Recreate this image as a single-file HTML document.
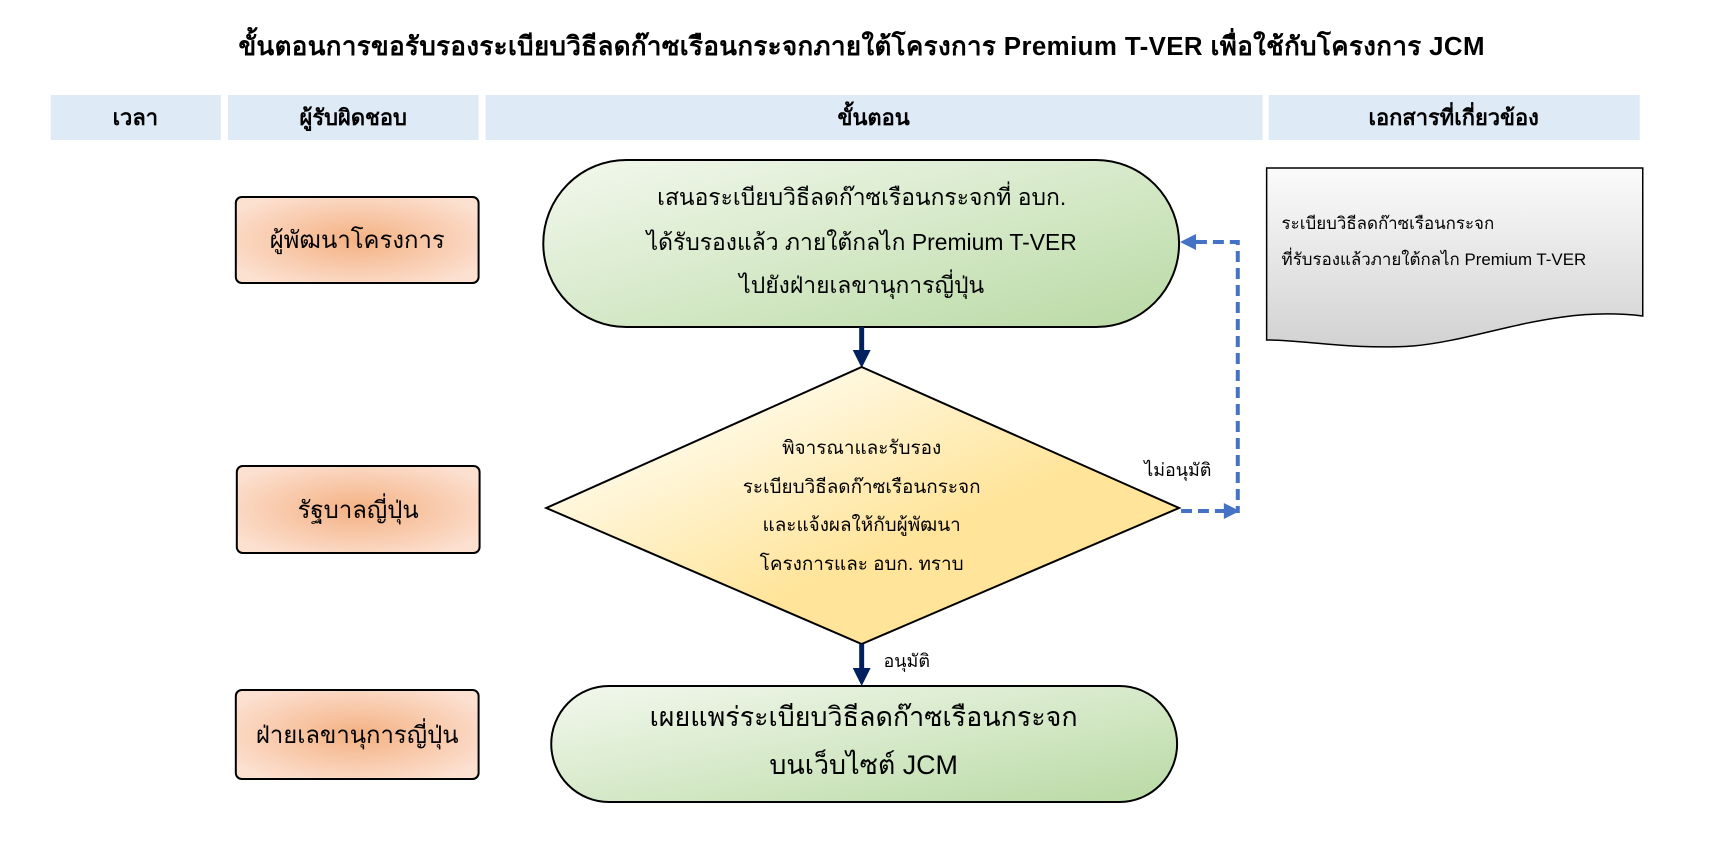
<!DOCTYPE html>
<html><head><meta charset="utf-8"><style>
html,body{margin:0;padding:0;background:#fff;}
svg{display:block;font-family:"Liberation Sans","Noto Sans CJK SC",sans-serif;}
</style></head><body>
<svg width="1725" height="845" viewBox="0 0 1725 845" xmlns="http://www.w3.org/2000/svg">
<defs>
<linearGradient id="g" x1="0" y1="0" x2="1" y2="1"><stop offset="0" stop-color="#f3f8ee"/><stop offset="1" stop-color="#b9daa4"/></linearGradient>
<linearGradient id="y" x1="0" y1="0" x2="1" y2="1"><stop offset="0.15" stop-color="#fffdf2"/><stop offset="0.6" stop-color="#ffe49a"/></linearGradient>
<radialGradient id="o" cx="0.5" cy="0.5" r="0.6"><stop offset="0" stop-color="#f4b183"/><stop offset="1" stop-color="#fce0d0"/></radialGradient>
<linearGradient id="d" x1="0" y1="0" x2="0" y2="1"><stop offset="0" stop-color="#fbfbfb"/><stop offset="1" stop-color="#d2d2d2"/></linearGradient>
</defs>
<g transform="translate(0,0) scale(0.995,1)">
<text x="866" y="55" font-size="26" font-weight="bold" text-anchor="middle" letter-spacing="0.4">ขั้นตอนการขอรับรองระเบียบวิธีลดก๊าซเรือนกระจกภายใต้โครงการ Premium T-VER เพื่อใช้กับโครงการ JCM</text>
<g fill="#deebf7">
<rect x="51" y="95" width="171" height="45"/><rect x="229" y="95" width="252" height="45"/>
<rect x="488" y="95" width="781" height="45"/><rect x="1275" y="95" width="373" height="45"/>
</g>
<g font-size="22" font-weight="bold" text-anchor="middle">
<text x="136" y="125">เวลา</text><text x="355" y="125">ผู้รับผิดชอบ</text>
<text x="878" y="125">ขั้นตอน</text><text x="1461" y="125">เอกสารที่เกี่ยวข้อง</text>
</g>
<g fill="url(#o)" stroke="#000" stroke-width="2">
<rect x="237" y="197" width="244" height="86" rx="6"/>
<rect x="238" y="466" width="244" height="87" rx="6"/>
<rect x="237" y="690" width="244" height="89" rx="6"/>
</g>
<g font-size="24" text-anchor="middle">
<text x="359" y="248">ผู้พัฒนาโครงการ</text>
<text x="360" y="518">รัฐบาลญี่ปุ่น</text>
<text x="359" y="743">ฝ่ายเลขานุการญี่ปุ่น</text>
</g>
<rect x="546" y="160" width="639" height="167" rx="83.5" fill="url(#g)" stroke="#000" stroke-width="2"/>
<g font-size="23" text-anchor="middle">
<text x="866" y="205">เสนอระเบียบวิธีลดก๊าซเรือนกระจกที่ อบก.</text>
<text x="866" y="250">ได้รับรองแล้ว ภายใต้กลไก Premium T-VER</text>
<text x="866" y="293">ไปยังฝ่ายเลขานุการญี่ปุ่น</text>
</g>
<line x1="866" y1="327" x2="866" y2="352" stroke="#002060" stroke-width="5"/>
<path d="M857,350 L875,350 L866,368z" fill="#002060"/>
<polygon points="866,367 1185,508 866,644 549,508" fill="url(#y)" stroke="#000" stroke-width="2"/>
<g font-size="19" text-anchor="middle">
<text x="866" y="454">พิจารณาและรับรอง</text>
<text x="866" y="493">ระเบียบวิธีลดก๊าซเรือนกระจก</text>
<text x="866" y="531">และแจ้งผลให้กับผู้พัฒนา</text>
<text x="866" y="570">โครงการและ อบก. ทราบ</text>
</g>
<line x1="866" y1="644" x2="866" y2="670" stroke="#002060" stroke-width="5"/>
<path d="M857,668 L875,668 L866,686z" fill="#002060"/>
<text x="888" y="667" font-size="18">อนุมัติ</text>
<rect x="554" y="686" width="629" height="116" rx="58" fill="url(#g)" stroke="#000" stroke-width="2"/>
<g font-size="27" text-anchor="middle">
<text x="868" y="726">เผยแพร่ระเบียบวิธีลดก๊าซเรือนกระจก</text>
<text x="868" y="774">บนเว็บไซต์ JCM</text>
</g>
<polyline points="1187,511 1244,511 1244,242 1196,242" fill="none" stroke="#4472c4" stroke-width="4" stroke-dasharray="11,6"/>
<path d="M1186,242 L1202,234 L1202,250z" fill="#4472c4"/>
<path d="M1230,503 L1246,511 L1230,519z" fill="#4472c4"/>
<text x="1150" y="476" font-size="18">ไม่อนุมัติ</text>
<path d="M1273,168 L1651,168 L1651,316 C1560,305 1490,340 1420,346 C1360,350 1310,340 1273,340 Z" fill="url(#d)" stroke="#000" stroke-width="1.5"/>
<g font-size="17">
<text x="1288" y="229">ระเบียบวิธีลดก๊าซเรือนกระจก</text>
<text x="1288" y="265">ที่รับรองแล้วภายใต้กลไก Premium T-VER</text>
</g>
</g>
</svg>
</body></html>
